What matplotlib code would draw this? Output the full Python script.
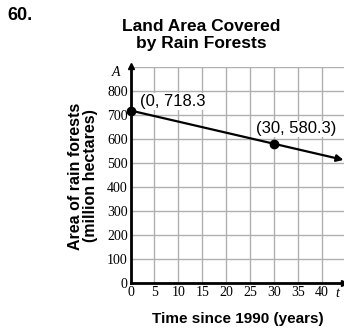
import matplotlib
matplotlib.use("Agg")
import matplotlib.pyplot as plt

# marked points on the model line
t_points = [0, 30]
area_points = [718.3, 580.3]
point_labels = ["(0, 718.3", "(30, 580.3)"]

# model line runs past the last point to the arrow tip
line_t = [0, 44.5]
line_area = [718.3, 513.0]

x_ticks = [0, 5, 10, 15, 20, 25, 30, 35, 40]
y_ticks = [0, 100, 200, 300, 400, 500, 600, 700, 800, 900]
y_tick_labels = ["0", "100", "200", "300", "400", "500", "600", "700", "800", ""]

SANS = "Liberation Sans"
SERIF = "Liberation Serif"

fig = plt.figure(figsize=(3.44, 3.31), dpi=100)
ax = fig.add_axes([130.5 / 344, 47.7 / 331, 213 / 344, 216.5 / 331])

ax.set_xlim(0, 44.5)
ax.set_ylim(0, 900)
ax.set_xticks(x_ticks)
ax.set_yticks(y_ticks)
ax.set_xticklabels([str(v) for v in x_ticks], family=SERIF, fontsize=10)
ax.set_yticklabels(y_tick_labels, family=SERIF, fontsize=10)
ax.tick_params(length=0, pad=2)
ax.grid(True, color="#b0b0b0", lw=1)
ax.set_axisbelow(True)

for side in ("top", "right"):
    ax.spines[side].set_visible(False)
for side in ("left", "bottom"):
    ax.spines[side].set_linewidth(2)
    ax.spines[side].set_zorder(4)

# arrowheads on the axes
ax.plot(1, 0, ">k", ms=5, transform=ax.get_yaxis_transform(), clip_on=False, zorder=5)
ax.plot(0, 1.005, "^k", ms=5, transform=ax.get_xaxis_transform(), clip_on=False, zorder=5)
ax.text(-3.0, 878, "A", family=SERIF, style="italic", fontsize=10,
        ha="center", va="center", clip_on=False)
ax.text(43.2, -42, "t", family=SERIF, style="italic", fontsize=10,
        ha="center", va="center", clip_on=False)

# model line with arrow
ax.annotate("", xy=(line_t[1], line_area[1]), xytext=(line_t[0], line_area[0]),
            arrowprops=dict(arrowstyle="-|>", color="black", lw=1.6,
                            mutation_scale=10, shrinkA=0, shrinkB=0),
            annotation_clip=False, zorder=5)
ax.plot(t_points, area_points, "o", color="black", ms=6, clip_on=False, zorder=6)

label_pos = [(2.0, 755), (26.3, 642)]
for (lx, ly), txt in zip(label_pos, point_labels):
    ax.text(lx, ly, txt, family=SANS, fontsize=12, ha="left", va="center",
            bbox=dict(boxstyle="square,pad=0.05", fc="white", ec="none"), zorder=3,
            clip_on=False)

fig.text(7 / 344, 1 - 16 / 331, "60.", family=SANS, weight="bold", fontsize=13,
         ha="left", va="center")
fig.text(201 / 344, 1 - 35 / 331, "Land Area Covered\nby Rain Forests", family=SANS,
         weight="bold", fontsize=12.5, ha="center", va="center", linespacing=1.1)
fig.text(83 / 344, 1 - 176 / 331, "Area of rain forests\n(million hectares)",
         family=SANS, weight="bold", fontsize=11.5, rotation=90, ha="center",
         va="center", multialignment="center", linespacing=1.05)
fig.text(238 / 344, 1 - 319 / 331, "Time since 1990 (years)", family=SANS,
         weight="bold", fontsize=11, ha="center", va="center")

fig.savefig("out.png", dpi=100)
